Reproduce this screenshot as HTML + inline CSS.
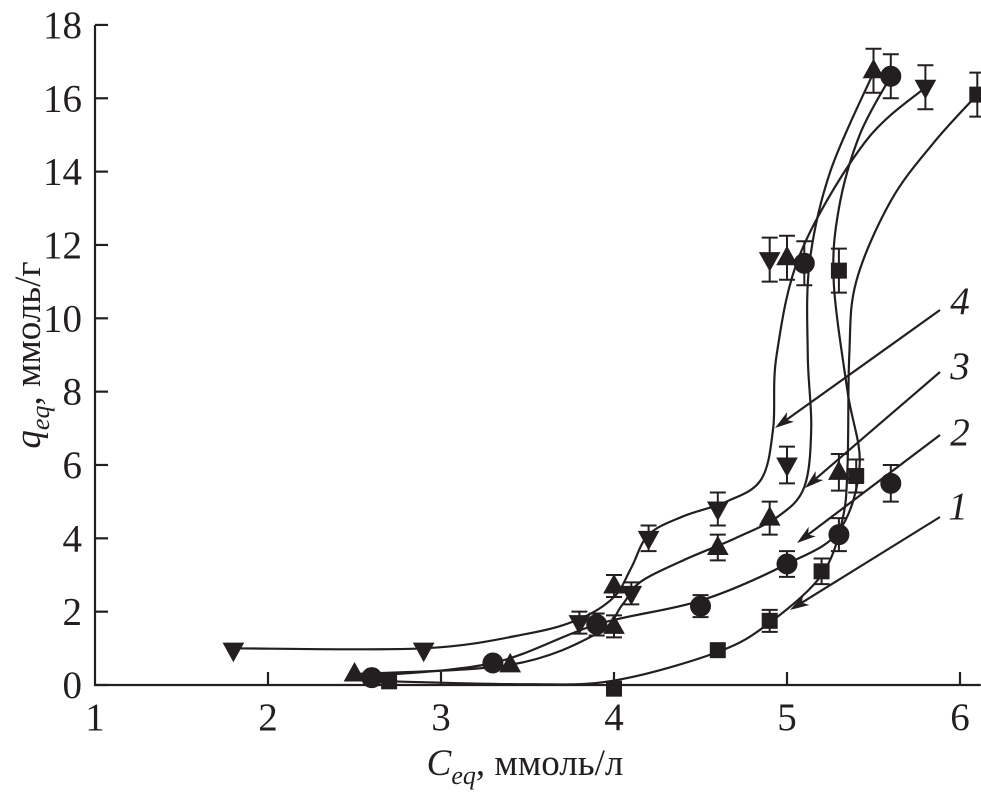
<!DOCTYPE html>
<html><head><meta charset="utf-8"><style>
body{margin:0;background:#fff}
svg text{font-family:"Liberation Serif","Times New Roman",serif;fill:#231f20}
</style></head><body>
<svg id="chart" width="981" height="796" viewBox="0 0 981 796" xmlns="http://www.w3.org/2000/svg">
<g id="axes"></g>
<g id="curves" fill="none" stroke="#231f20" stroke-width="2.2"></g>
<g id="marks" fill="#231f20" stroke="#231f20"></g>
<g id="labels"></g>
<text transform="translate(40,355) rotate(-90)" text-anchor="middle" font-size="37"><tspan font-style="italic">q</tspan><tspan font-style="italic" font-size="26" dy="9">eq</tspan><tspan dy="-9">, ммоль/г</tspan></text>
<text x="525" y="775" text-anchor="middle" font-size="37"><tspan font-style="italic">C</tspan><tspan font-style="italic" font-size="26" dy="9">eq</tspan><tspan dy="-9">, ммоль/л</tspan></text>
</svg>
<script>
const xTicks=[1,2,3,4,5,6];
const yTicks=[0,2,4,6,8,10,12,14,16,18];
// series 1 squares
const s1x=[2.7,4.0,4.6,4.9,5.2,5.4,5.3,6.1];
const s1y=[0.1,-0.1,0.95,1.75,3.1,5.7,11.3,16.1];
const c1x=[2.7,3.5,4.0,4.6,4.9,5.2,5.32,5.35,5.36,5.4,5.6,5.85,6.1];
const c1y=[0.1,0.02,0.12,0.9,1.7,3.0,4.5,6.0,9.0,11.0,13.2,14.8,16.1];
// series 2 circles
const s2x=[2.6,3.3,3.9,4.5,5.0,5.3,5.6,5.1,5.6];
const s2y=[0.2,0.6,1.65,2.15,3.3,4.1,5.5,11.5,16.6];
const c2x=[2.6,3.3,3.9,4.5,5.0,5.3,5.42,5.35,5.27,5.3,5.42,5.6];
const c2y=[0.25,0.6,1.65,2.3,3.3,4.2,6.0,8.0,11.0,13.0,15.0,16.6];
// series 3 up triangles
const s3x=[2.5,3.4,4.0,4.0,4.6,4.9,5.3,5.0,5.5];
const s3y=[0.3,0.55,1.6,2.7,3.75,4.55,5.8,11.65,16.75];
const c3x=[2.5,3.4,3.9,4.05,4.15,4.4,4.7,4.95,5.1,5.14,5.12,5.13,5.25,5.5];
const c3y=[0.3,0.55,1.4,2.2,2.8,3.4,4.0,4.6,5.4,7.0,9.0,11.5,14.0,16.7];
// series 4 down triangles
const s4x=[1.8,2.9,3.8,4.1,4.2,4.6,5.0,4.9,5.8];
const s4y=[0.95,0.95,1.7,2.5,4.0,4.8,6.0,11.6,16.3];
const c4x=[1.8,2.9,3.5,3.8,4.0,4.1,4.2,4.4,4.65,4.85,4.92,4.94,5.08,5.45,5.8];
const c4y=[1.0,1.0,1.4,1.8,2.4,3.2,4.1,4.6,5.0,5.6,7.0,9.0,11.8,14.8,16.3];
const errs=[0.3,0.3,0.3,0.3,0.35,0.45,0.5,0.6,0.65];
const labelText=["1","2","3","4"];

const NS="http://www.w3.org/2000/svg";
const X=v=>95+(v-1)*173;
const Y=v=>685-v*36.67;
function mk(tag,parent,attrs){const e=document.createElementNS(NS,tag);for(const k in attrs)e.setAttribute(k,attrs[k]);parent.appendChild(e);return e;}
const axes=document.getElementById('axes');
let l=mk('path',axes,{d:`M${X(1)},${Y(18)}V${Y(0)}H${X(6.12)}`,stroke:'#231f20','stroke-width':2.2,fill:'none'});


xTicks.forEach(t=>{
  if(t>1){const k=mk('line',axes,{x1:X(t),x2:X(t),y1:Y(0),y2:Y(0)-13,stroke:'#231f20','stroke-width':2.2});
  
  }
  const tx=mk('text',axes,{x:X(t),y:Y(0)+45,'text-anchor':'middle','font-size':39});tx.textContent=t;
  
  
});
yTicks.forEach(t=>{
  const k=mk('line',axes,{x1:X(1),x2:X(1)+13,y1:Y(t),y2:Y(t),stroke:'#231f20','stroke-width':2.2});
  
  
  const tx=mk('text',axes,{x:X(1)-13,y:Y(t)+13,'text-anchor':'end','font-size':39});tx.textContent=t;
  
  
});
function smooth(xs,ys){const p=xs.map((x,i)=>[X(x),Y(ys[i])]);let d=`M${p[0][0]},${p[0][1]}`;
  for(let i=0;i<p.length-1;i++){const p0=p[i-1]||p[i],p1=p[i],p2=p[i+1],p3=p[i+2]||p2;
    d+=`C${p1[0]+(p2[0]-p0[0])/6},${p1[1]+(p2[1]-p0[1])/6} ${p2[0]-(p3[0]-p1[0])/6},${p2[1]-(p3[1]-p1[1])/6} ${p2[0]},${p2[1]}`;}
  return d;}
const curves=document.getElementById('curves');
[[c1x,c1y],[c2x,c2y],[c3x,c3y],[c4x,c4y]].forEach((c,i)=>{
  const e=mk('path',curves,{d:smooth(c[0],c[1])});
  
  
});
const marks=document.getElementById('marks');
function marker(type,cx,cy){
  if(type==0)return mk('rect',marks,{x:cx-7.5,y:cy-7.5,width:15,height:15});
  if(type==1)return mk('circle',marks,{cx:cx,cy:cy,r:10});
  if(type==2)return mk('path',marks,{d:`M${cx},${cy-11}L${cx+10},${cy+7}L${cx-10},${cy+7}Z`});
  return mk('path',marks,{d:`M${cx},${cy+11}L${cx+10},${cy-7}L${cx-10},${cy-7}Z`});
}
[[s1x,s1y],[s2x,s2y],[s3x,s3y],[s4x,s4y]].forEach((s,si)=>{
  s[0].forEach((x,i)=>{
    const cx=X(x),cy=Y(s[1][i]);
    const yv=s[1][i];const er=yv>8?0.6:errs[Math.min(i,errs.length-1)]*(yv>1.2?1:0);
    if(er>0){const b=mk('path',marks,{d:`M${cx},${Y(yv+er)}V${Y(yv-er)}M${cx-8},${Y(yv+er)}H${cx+8}M${cx-8},${Y(yv-er)}H${cx+8}`,fill:'none','stroke-width':2});
      
      }
    const m=marker(si,cx,cy);
    
    
  });
});
const labels=document.getElementById('labels');
const arrows=[[940,517,790,610,958,507],[940,435,797,543,960,433],[940,372,805,488,960,367],[940,310,775,428,960,302]];
arrows.forEach((a,i)=>{
  const [x1,y1,x2,y2,lx,ly]=a;const ang=Math.atan2(y2-y1,x2-x1);
  const ln=mk('line',labels,{x1:x1,y1:y1,x2:x2-12*Math.cos(ang),y2:y2-12*Math.sin(ang),stroke:'#231f20','stroke-width':2.2});
  
  
  const h=mk('path',labels,{d:`M${x2},${y2}L${x2-20*Math.cos(ang-0.3)},${y2-20*Math.sin(ang-0.3)}L${x2-14*Math.cos(ang)},${y2-14*Math.sin(ang)}L${x2-20*Math.cos(ang+0.3)},${y2-20*Math.sin(ang+0.3)}Z`,fill:'#231f20'});
  
  
  const t=mk('text',labels,{x:lx,y:ly+12,'text-anchor':'middle','font-size':39,'font-style':'italic'});t.textContent=labelText[i];
  
  
});
</script>
</body></html>
